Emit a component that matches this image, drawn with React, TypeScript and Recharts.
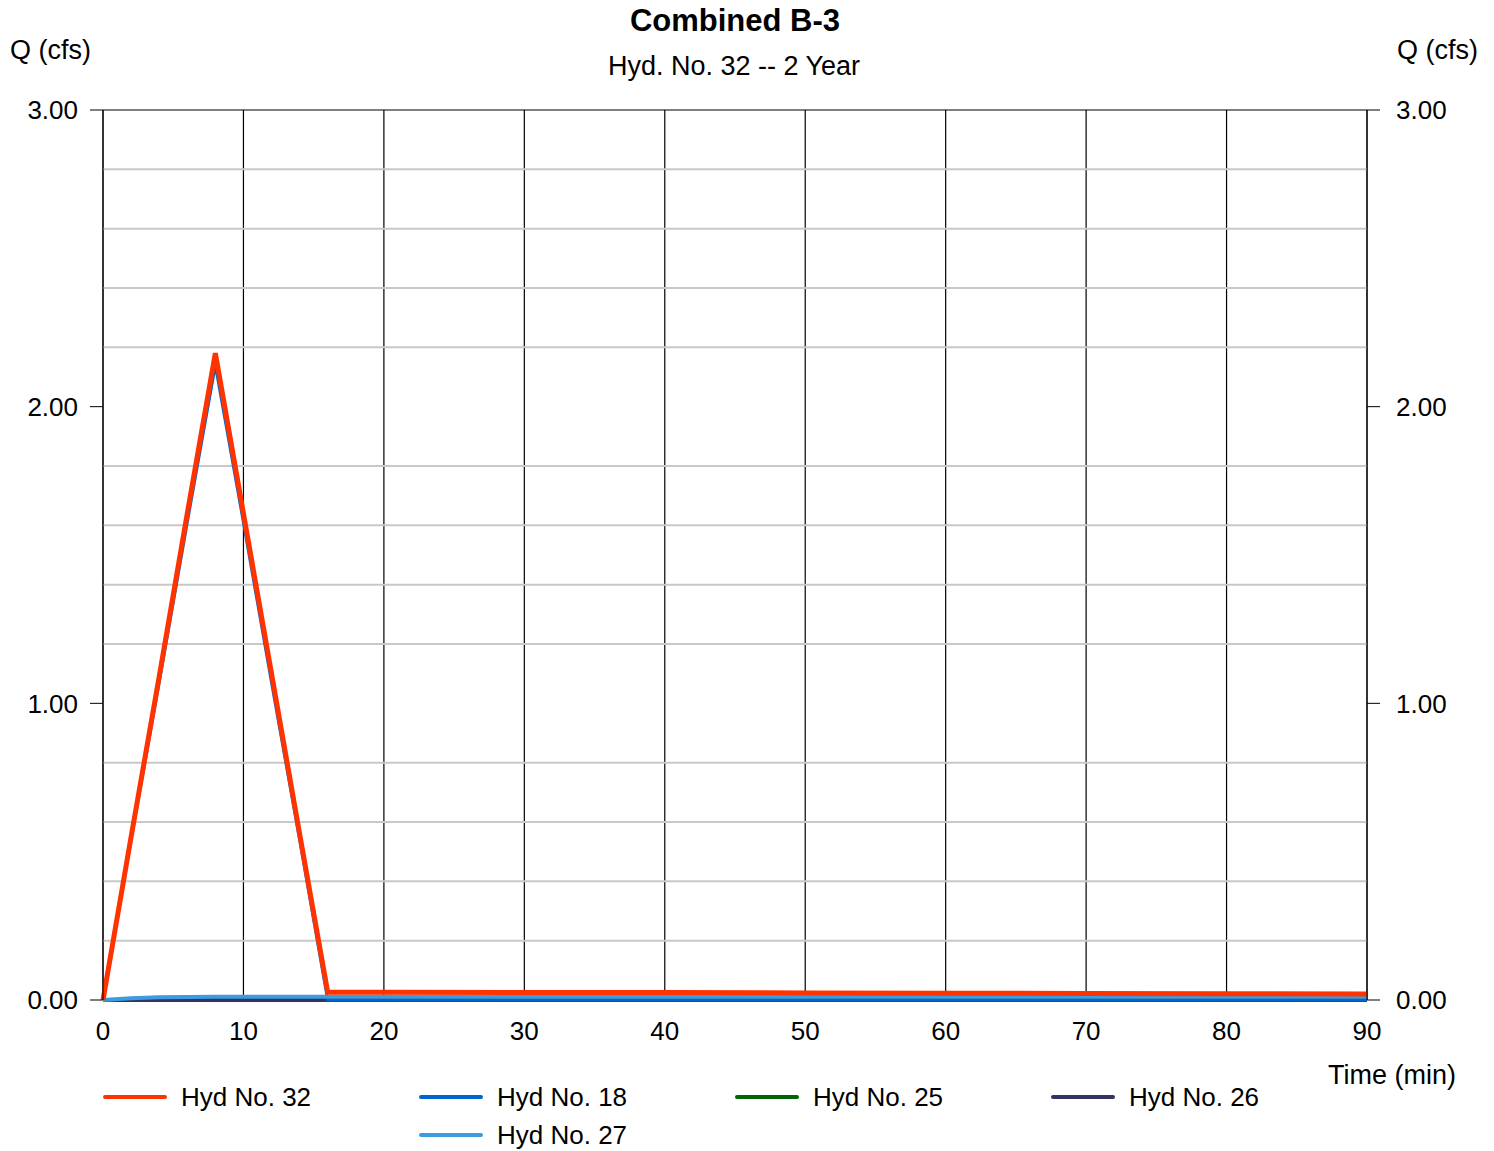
import { LineChart, Line, XAxis, YAxis, CartesianGrid, ReferenceLine } from 'recharts'

const FONT = '"Liberation Sans", Arial, sans-serif'

const time = [0, 2, 4, 6, 8, 10, 12, 14, 16, 20, 30, 40, 50, 60, 70, 80, 90]
const hyd32 = [0, 0.55, 1.09, 1.64, 2.18, 1.64, 1.1, 0.56, 0.026, 0.026, 0.025, 0.025, 0.024, 0.023, 0.022, 0.021, 0.02]
const hyd18 = [0, 0.54, 1.07, 1.61, 2.14, 1.61, 1.07, 0.54, 0, 0, 0, 0, 0, 0, 0, 0, 0]
const hyd25 = [0, 0, 0, 0, 0, 0, 0, 0, 0, 0, 0, 0, 0, 0, 0, 0, 0]
const hyd26 = [0, 0, 0, 0, 0, 0, 0, 0, 0, 0, 0, 0, 0, 0, 0, 0, 0]
const hyd27 = [0, 0.006, 0.009, 0.01, 0.011, 0.011, 0.011, 0.011, 0.011, 0.011, 0.011, 0.011, 0.011, 0.011, 0.011, 0.011, 0.011]

const xTicks = [0, 10, 20, 30, 40, 50, 60, 70, 80, 90]
const yTicks = [0, 1, 2, 3]
const yMinor = [0.2, 0.4, 0.6, 0.8, 1.2, 1.4, 1.6, 1.8, 2.2, 2.4, 2.6, 2.8]

const series = [
  { key: 'hyd25', name: 'Hyd No. 25', color: '#006600', width: 4, axis: 'r' },
  { key: 'hyd26', name: 'Hyd No. 26', color: '#333366', width: 4, axis: 'r' },
  { key: 'hyd18', name: 'Hyd No. 18', color: '#0066cc', width: 3, axis: 'l' },
  { key: 'hyd27', name: 'Hyd No. 27', color: '#3d9be0', width: 4, axis: 'l' },
  { key: 'hyd32', name: 'Hyd No. 32', color: '#ff3300', width: 5, axis: 'l' },
]
const legendOrder = ['hyd32', 'hyd18', 'hyd25', 'hyd26', 'hyd27']

const data = time.map((t, i) => ({
  t, hyd32: hyd32[i], hyd18: hyd18[i], hyd25: hyd25[i], hyd26: hyd26[i], hyd27: hyd27[i],
}))

const txt = (extra: React.CSSProperties): React.CSSProperties => ({
  position: 'absolute', fontFamily: FONT, fontSize: 27, color: '#000', whiteSpace: 'nowrap', lineHeight: 1, ...extra,
})

export default function App() {
  const tick = { fontSize: 26, fill: '#000', fontFamily: FONT }
  return (
    <div style={{ position: 'relative', width: 1494, height: 1151, background: '#fff' }}>
      <style>{'body{margin:0}'}</style>
      <div style={txt({ left: 0, width: 1470, textAlign: 'center', top: 5, fontSize: 31, fontWeight: 'bold' })}>Combined B-3</div>
      <div style={txt({ left: 0, width: 1468, textAlign: 'center', top: 53 })}>Hyd. No. 32 -- 2 Year</div>
      <div style={txt({ left: 10, top: 37 })}>Q (cfs)</div>
      <div style={txt({ left: 1397, top: 37 })}>Q (cfs)</div>
      <div style={txt({ left: 1328, top: 1062 })}>Time (min)</div>
      <LineChart width={1494} height={1151} data={data} margin={{ top: 110, right: 0, bottom: 111, left: 0 }}>
        <CartesianGrid stroke="#000" strokeWidth={1.2} />
        {yMinor.map(v => (
          <ReferenceLine key={v} y={v} yAxisId="l" stroke="#c8c8c8" strokeWidth={2} />
        ))}
        <XAxis dataKey="t" type="number" domain={[0, 90]} ticks={xTicks} tick={tick}
          axisLine={false} tickLine={false} tickSize={0} tickMargin={22} height={40} interval={0} />
        <YAxis yAxisId="l" orientation="left" domain={[0, 3]} ticks={yTicks} width={103} tick={tick}
          tickFormatter={(v: number) => v.toFixed(2)} tickSize={13} tickMargin={12}
          axisLine={{ stroke: '#000' }} tickLine={{ stroke: '#000' }} />
        <YAxis yAxisId="r" orientation="right" domain={[0, 3]} ticks={yTicks} width={127} tick={tick}
          tickFormatter={(v: number) => v.toFixed(2)} tickSize={13} tickMargin={16}
          axisLine={{ stroke: '#000' }} tickLine={{ stroke: '#000' }} />
        {series.map(s => (
          <Line key={s.key} yAxisId={s.axis} dataKey={s.key} stroke={s.color} strokeWidth={s.width}
            dot={false} activeDot={false} isAnimationActive={false} type="linear" />
        ))}
      </LineChart>
      {legendOrder.map((k, i) => {
        const s = series.find(x => x.key === k)!
        const col = i % 4
        const row = Math.floor(i / 4)
        const left = i === 4 ? 419 : 103 + col * 316
        const top = 1097 + row * 38
        return (
          <div key={k}>
            <div style={{ position: 'absolute', left, top: top - 2, width: 64, height: 4, borderRadius: 2, background: s.color }} />
            <div style={txt({ left: left + 78, top: top - 13, fontSize: 26 })}>{s.name}</div>
          </div>
        )
      })}
    </div>
  )
}
